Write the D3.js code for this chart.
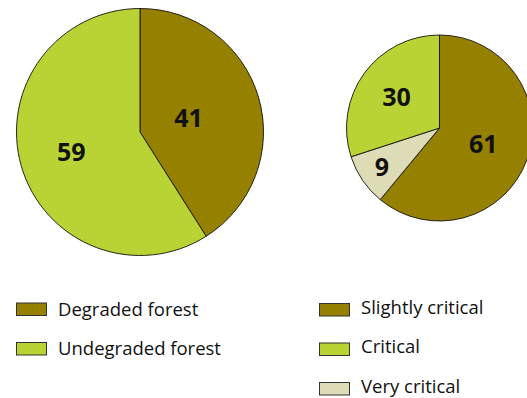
<!DOCTYPE html>
<html>
<head>
<meta charset="utf-8">
<script src="https://cdn.jsdelivr.net/npm/d3@7"></script>
<style>
  html, body { margin: 0; padding: 0; background: #fff; }
  svg { display: block; }
</style>
</head>
<body>
<svg id="chart" width="527" height="398"></svg>
<script>
// Forest condition shares (%)
const forestCategories = ["Degraded forest", "Undegraded forest"];
const forestValues = [41, 59];

// Criticality shares (%), in drawing order clockwise from 12 o'clock
const criticalCategories = ["Slightly critical", "Very critical", "Critical"];
const criticalValues = [61, 9, 30];

// Legend order for the criticality pie
const criticalLegendOrder = ["Slightly critical", "Critical", "Very critical"];

const colors = {
  "Degraded forest": "#968000",
  "Undegraded forest": "#b9d334",
  "Slightly critical": "#968000",
  "Critical": "#b9d334",
  "Very critical": "#dedcb6"
};

const svg = d3.select("#chart");

function drawPie(cx, cy, r, cats, vals, labelFactors) {
  const data = cats.map((c, i) => ({ cat: c, value: vals[i] }));
  const pie = d3.pie().sort(null).value(d => d.value);
  const arc = d3.arc().innerRadius(0).outerRadius(r);
  const g = svg.append("g").attr("transform", `translate(${cx},${cy})`);
  const arcs = pie(data);
  g.selectAll("path.slice")
    .data(arcs)
    .join("path")
    .attr("class", "slice")
    .attr("d", arc)
    .attr("fill", d => colors[d.data.cat])
    .attr("stroke", "#111")
    .attr("stroke-width", 0.9);
  g.selectAll("text.val")
    .data(arcs)
    .join("text")
    .attr("class", "val")
    .attr("transform", (d, i) => {
      const lr = r * labelFactors[i];
      const c = d3.arc().innerRadius(lr).outerRadius(lr).centroid(d);
      return `translate(${c[0]},${c[1]})`;
    })
    .attr("text-anchor", "middle")
    .attr("dy", "0.36em")
    .attr("font-family", "'Open Sans', sans-serif")
    .attr("font-weight", "bold")
    .attr("font-size", 25)
    .attr("fill", "#111")
    .text(d => d.data.value);
}

drawPie(140, 132, 123.5, forestCategories, forestValues, [0.41, 0.58]);
drawPie(439.5, 128, 93, criticalCategories, criticalValues, [0.5, 0.75, 0.57]);

function drawLegend(x, y, cats, step, baseline) {
  const g = svg.append("g").attr("transform", `translate(${x},${y})`);
  const items = g.selectAll("g.item")
    .data(cats)
    .join("g")
    .attr("class", "item")
    .attr("transform", (d, i) => `translate(0,${i * step})`);
  items.append("rect")
    .attr("x", 0.5).attr("y", 0.5)
    .attr("width", 30).attr("height", 12.5)
    .attr("fill", d => colors[d])
    .attr("stroke", "#333")
    .attr("stroke-width", 1);
  items.append("text")
    .attr("x", 42)
    .attr("y", baseline)
    .attr("font-family", "'Open Sans', sans-serif")
    .attr("font-size", 18.5)
    .attr("fill", "#111")
    .text(d => d);
}

drawLegend(16, 302.5, forestCategories, 39.5, 13);
drawLegend(319, 303, criticalLegendOrder, 39.5, 10.5);
</script>
</body>
</html>
